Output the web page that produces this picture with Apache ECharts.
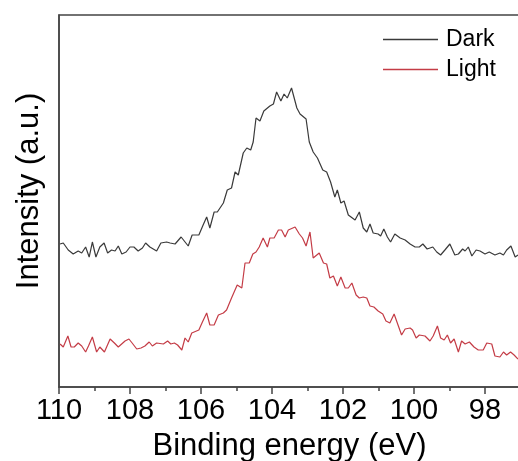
<!DOCTYPE html>
<html>
<head>
<meta charset="utf-8">
<script src="https://cdn.jsdelivr.net/npm/echarts@6/dist/echarts.min.js"></script>
<style>
html,body{margin:0;padding:0;background:#fff;}
#chart{width:518px;height:461px;}
</style>
</head>
<body>
<div id="chart"></div>
<script>
// Binding energy (eV) and intensity (a.u.)
var darkEnergy = [109.97,109.88,109.74,109.60,109.46,109.36,109.25,109.15,109.06,108.96,108.85,108.73,108.63,108.52,108.42,108.33,108.23,108.11,108.00,107.89,107.77,107.65,107.56,107.44,107.25,107.13,106.97,106.87,106.73,106.56,106.36,106.25,106.06,105.94,105.84,105.75,105.63,105.54,105.37,105.26,105.14,105.04,104.95,104.81,104.71,104.60,104.53,104.45,104.34,104.23,104.06,103.96,103.87,103.75,103.66,103.57,103.45,103.30,103.21,103.04,102.95,102.84,102.72,102.57,102.46,102.35,102.23,102.16,102.06,101.97,101.85,101.66,101.54,101.43,101.33,101.24,101.15,101.01,100.94,100.85,100.75,100.66,100.54,100.39,100.25,100.11,99.97,99.85,99.75,99.63,99.47,99.36,99.25,99.13,98.99,98.85,98.75,98.63,98.56,98.47,98.37,98.25,98.14,98.00,97.88,97.72,97.58,97.48,97.39,97.27,97.15,97.07];
var darkIntensity = [143,144,137,133,136,134,140,130,145,130,140,144,134,137,136,141,133,135,140,140,136,139,144,140,136,144,145,144,143,150,141,152,152,162,170,159,175,175,184,197,199,215,212,234,239,237,245,269,266,276,281,283,295,286,293,289,299,279,273,268,245,235,229,217,215,205,190,197,184,186,172,167,175,159,155,163,154,153,151,158,150,145,153,149,147,143,140,140,143,138,140,135,132,137,143,132,133,138,136,140,131,137,136,133,135,132,134,132,137,141,130,132];
var lightEnergy = [109.97,109.88,109.75,109.66,109.57,109.46,109.36,109.25,109.17,109.06,108.94,108.85,108.72,108.56,108.44,108.33,108.14,108.03,107.94,107.81,107.69,107.58,107.46,107.37,107.25,107.06,106.94,106.85,106.75,106.66,106.54,106.45,106.36,106.26,106.06,105.96,105.84,105.75,105.63,105.51,105.37,105.28,105.14,104.98,104.85,104.76,104.64,104.54,104.45,104.36,104.25,104.13,104.06,103.94,103.82,103.73,103.63,103.54,103.35,103.23,103.14,103.04,102.93,102.84,102.67,102.55,102.46,102.37,102.27,102.16,102.06,101.94,101.85,101.75,101.63,101.54,101.43,101.33,101.24,101.13,101.01,100.88,100.79,100.68,100.56,100.44,100.35,100.25,100.11,100.04,99.94,99.85,99.69,99.55,99.46,99.34,99.25,99.15,99.06,98.97,98.87,98.75,98.66,98.56,98.44,98.31,98.19,98.05,97.95,97.81,97.72,97.58,97.48,97.39,97.28,97.18,97.07];
var lightIntensity = [43,40,51,40,40,44,41,35,41,50,35,40,35,48,44,40,46,48,44,38,39,41,45,41,44,43,46,43,44,42,37,49,45,54,57,65,74,62,62,72,74,77,89,102,99,124,124,133,135,140,149,140,149,149,157,157,150,157,160,153,149,141,155,129,134,124,123,109,111,101,110,99,99,104,92,89,90,89,81,80,76,73,66,64,73,61,52,58,59,57,49,52,51,46,51,61,49,47,52,44,48,35,46,43,45,40,37,37,44,43,31,30,35,32,35,32,28];
var seriesNames = ['Dark', 'Light'];

function pairs(xs, ys) { return xs.map(function (x, i) { return [x, ys[i]]; }); }

var FONT = '"Liberation Sans", Arial, sans-serif';
var chart = echarts.init(document.getElementById('chart'), null, {renderer: 'canvas'});
chart.setOption({
  animation: false,
  backgroundColor: '#fff',
  grid: {left: 59, right: -38, top: 15, bottom: 74, containLabel: false, outerBoundsMode: 'none', show: true, borderColor: '#444', borderWidth: 1.5, backgroundColor: 'transparent'},
  legend: {
    data: seriesNames,
    orient: 'vertical',
    left: 383,
    top: 28,
    padding: 0,
    itemWidth: 55,
    itemHeight: 1.5,
    itemGap: 7,
    icon: 'rect',
    textStyle: {fontFamily: FONT, fontSize: 23, lineHeight: 23, color: '#000', padding: [0, 0, 0, 3]}
  },
  xAxis: {
    type: 'value',
    inverse: true,
    min: 96,
    max: 110,
    interval: 2,
    axisLine: {show: true, lineStyle: {color: '#444', width: 1.5}},
    axisTick: {show: true, inside: false, length: 7, lineStyle: {color: '#444', width: 1.5}},
    minorTick: {show: true, splitNumber: 2, length: 4, lineStyle: {color: '#444', width: 1.5}},
    splitLine: {show: false},
    axisLabel: {fontFamily: FONT, fontSize: 29, color: '#000', margin: 9},
    name: 'Binding energy (eV)',
    nameLocation: 'middle',
    nameGap: 44,
    nameTextStyle: {fontFamily: FONT, fontSize: 31, color: '#000', padding: [0, 36, 0, 0]}
  },
  yAxis: {
    type: 'value',
    min: 0,
    max: 372,
    axisLine: {show: true, lineStyle: {color: '#444', width: 1.5}},
    axisTick: {show: false},
    axisLabel: {show: false},
    splitLine: {show: false}
  },
  graphic: [{
    type: 'text',
    x: 29.5,
    y: 191,
    rotation: Math.PI / 2,
    style: {text: 'Intensity (a.u.)', font: '31px "Liberation Sans", Arial, sans-serif', fill: '#000', align: 'center', verticalAlign: 'middle'}
  }],
  series: [
    {name: seriesNames[0], type: 'line', data: pairs(darkEnergy, darkIntensity), symbol: 'none', lineStyle: {color: '#3a3a3a', width: 1.2}, itemStyle: {color: '#3a3a3a'}},
    {name: seriesNames[1], type: 'line', data: pairs(lightEnergy, lightIntensity), symbol: 'none', lineStyle: {color: '#c43c46', width: 1.2}, itemStyle: {color: '#c43c46'}}
  ]
});
</script>
</body>
</html>
